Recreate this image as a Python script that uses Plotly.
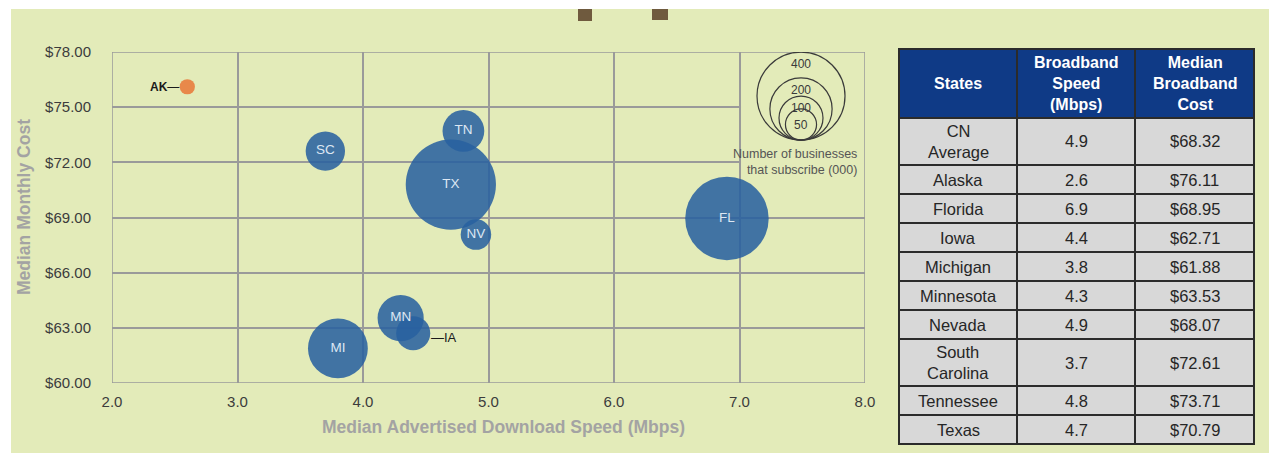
import math
import plotly.graph_objects as go

# ---------------- data ----------------
state_codes = ["AK", "FL", "IA", "MI", "MN", "NV", "SC", "TN", "TX"]
speed_mbps = [2.6, 6.9, 4.4, 3.8, 4.3, 4.9, 3.7, 4.8, 4.7]
monthly_cost = [76.11, 68.95, 62.71, 61.88, 63.53, 68.07, 72.61, 73.71, 70.79]
subscribers_k = [12, 360, 60, 185, 110, 48, 80, 90, 420]  # thousands
outside_labels = {"AK": "left", "IA": "right"}

legend_sizes = [400, 200, 100, 50]

table_states = ["CN<br>Average", "Alaska", "Florida", "Iowa", "Michigan", "Minnesota",
                "Nevada", "South<br>Carolina", "Tennessee", "Texas"]
table_speed = ["4.9", "2.6", "6.9", "4.4", "3.8", "4.3", "4.9", "3.7", "4.8", "4.7"]
table_cost = ["$68.32", "$76.11", "$68.95", "$62.71", "$61.88", "$63.53",
              "$68.07", "$72.61", "$73.71", "$70.79"]
table_headers = ["States", "Broadband<br>Speed<br>(Mbps)", "Median<br>Broadband<br>Cost"]

x_ticks = [2, 3, 4, 5, 6, 7, 8]
y_ticks = [60, 63, 66, 69, 72, 75, 78]

# ---------------- style ----------------
W, H = 1269, 453
FONT = "Liberation Sans, Arial, sans-serif"
BG = "#e3ebb9"
GRID = "#9a9a9a"
BLUE = "rgb(40,96,160)"
ORANGE = "#e8793a"
SIZEREF = 2 / 19.36  # plotly area mode: diameter = sqrt(2 * value / sizeref)

plot_l, plot_r, plot_t, plot_b = 112, 865, 52, 383

fig = go.Figure()

colors = [ORANGE if s == "AK" else BLUE for s in state_codes]
inside_text = ["" if s in outside_labels else s for s in state_codes]

fig.add_trace(go.Scatter(
    x=speed_mbps, y=monthly_cost, mode="markers+text",
    text=inside_text, textposition="middle center",
    textfont=dict(family=FONT, size=13.5, color="#dde7f3"),
    marker=dict(size=subscribers_k, sizemode="area", sizeref=SIZEREF,
                color=colors, opacity=0.87, line=dict(width=0)),
    showlegend=False, hoverinfo="skip",
))


def radius(n):
    return math.sqrt(2 * n / SIZEREF) / 2


annotations = []
for s, x, y, n in zip(state_codes, speed_mbps, monthly_cost, subscribers_k):
    if s in outside_labels:
        r = radius(n)
        if outside_labels[s] == "left":
            annotations.append(dict(x=x, y=y, xref="x", yref="y", text="<b>" + s + "</b>—",
                                    xanchor="right", yanchor="middle", xshift=-r + 1,
                                    showarrow=False, font=dict(family=FONT, size=12, color="#1a1a1a")))
        else:
            annotations.append(dict(x=x, y=y, xref="x", yref="y", text="—" + s,
                                    xanchor="left", yanchor="middle", xshift=r - 1, yshift=-4,
                                    showarrow=False, font=dict(family=FONT, size=13, color="#1a1a1a")))

shapes = [
    # page background and decorations
    dict(type="rect", xref="paper", yref="paper", x0=11 / W, x1=1.0, y0=0, y1=1 - 9 / H,
         fillcolor=BG, line=dict(width=0), layer="below"),
    dict(type="rect", xref="paper", yref="paper", x0=578 / W, x1=592 / W, y0=1 - 21 / H, y1=1 - 9 / H,
         fillcolor="#6f5a3e", line=dict(width=0), layer="below"),
    dict(type="rect", xref="paper", yref="paper", x0=652 / W, x1=668 / W, y0=1 - 20 / H, y1=1 - 9 / H,
         fillcolor="#6f5a3e", line=dict(width=0), layer="below"),
    # legend box: hides grid in the top-right cell
    dict(type="rect", xref="x", yref="y", x0=7.012, x1=8, y0=71.95, y1=78,
         fillcolor=BG, line=dict(width=0), layer="between"),
    # plot frame
    dict(type="rect", xref="x", yref="y", x0=2, x1=8, y0=60, y1=78,
         line=dict(color=GRID, width=1.5), fillcolor="rgba(0,0,0,0)", layer="above"),
]

# size legend: nested circles sharing a bottom point
leg_x, leg_y = 7.49, 73.21
for n in legend_sizes:
    r = radius(n)
    shapes.append(dict(type="circle", xref="x", yref="y", xsizemode="pixel", ysizemode="pixel",
                       xanchor=leg_x, yanchor=leg_y, x0=-r, x1=r, y0=0, y1=2 * r,
                       line=dict(color="#3a3a3a", width=1.2), layer="above"))
    off = 2 * r - 12 if n >= 100 else r
    annotations.append(dict(x=leg_x, y=leg_y, xref="x", yref="y", text=str(n),
                            yshift=off, showarrow=False, xanchor="center", yanchor="middle",
                            font=dict(family=FONT, size=12, color="#3a3a3a")))
annotations.append(dict(x=8, y=leg_y, xref="x", yref="y",
                        text="Number of businesses<br>that subscribe (000)",
                        xanchor="right", yanchor="top", xshift=-6, yshift=-5, align="right",
                        showarrow=False, font=dict(family=FONT, size=12.5, color="#555555")))

# axis titles
annotations.append(dict(x=503 / W, y=1 - 427 / H, xref="paper", yref="paper",
                        text="<b>Median Advertised Download Speed (Mbps)</b>", showarrow=False,
                        xanchor="center", yanchor="middle",
                        font=dict(family=FONT, size=17.5, color="#a3a3a3")))
annotations.append(dict(x=24 / W, y=1 - 207 / H, xref="paper", yref="paper",
                        text="<b>Median Monthly Cost</b>", showarrow=False, textangle=-90,
                        xanchor="center", yanchor="middle",
                        font=dict(family=FONT, size=17.5, color="#a3a3a3")))

# ---------------- table (cells built from the data lists) ----------------
col_edges = [899, 1017, 1135, 1254]
table_top = 49
header_h = 69
single_h, extra_line_h = 29, 18
rows = [table_headers] + [list(r) for r in zip(table_states, table_speed, table_cost)]
y_cursor = table_top
for ri, row in enumerate(rows):
    if ri == 0:
        h = header_h
    else:
        h = single_h + extra_line_h * max(v.count("<br>") for v in row)
    for ci, val in enumerate(row):
        x0, x1 = col_edges[ci], col_edges[ci + 1]
        shapes.append(dict(type="rect", xref="paper", yref="paper",
                           x0=x0 / W, x1=x1 / W, y0=1 - (y_cursor + h) / H, y1=1 - y_cursor / H,
                           fillcolor="#0f3a86" if ri == 0 else "#d8d8d8",
                           line=dict(color="#2b2b2b", width=2), layer="above"))
        annotations.append(dict(x=(x0 + x1) / 2 / W, y=1 - (y_cursor + h / 2) / H,
                                xref="paper", yref="paper",
                                text=("<b>" + val + "</b>") if ri == 0 else val,
                                showarrow=False, xanchor="center", yanchor="middle", align="center",
                                font=dict(family=FONT, size=16 if ri == 0 else 16.5,
                                          color="white" if ri == 0 else "#262626")))
    y_cursor += h

axis_common = dict(showgrid=True, gridcolor=GRID, gridwidth=1.5, showline=False,
                   zeroline=False, automargin=False,
                   ticks="outside", tickcolor="rgba(0,0,0,0)",
                   tickfont=dict(family=FONT, size=15, color="#3c3c3c"))

fig.update_layout(
    width=W, height=H,
    margin=dict(l=0, r=0, t=0, b=0),
    paper_bgcolor="white", plot_bgcolor="rgba(0,0,0,0)",
    xaxis=dict(domain=[plot_l / W, plot_r / W], range=[2, 8], tickvals=x_ticks,
               ticktext=[f"{v:.1f}" for v in x_ticks], ticklen=5, **axis_common),
    yaxis=dict(domain=[1 - plot_b / H, 1 - plot_t / H], range=[60, 78], tickvals=y_ticks,
               ticktext=[f"${v:.2f}" for v in y_ticks], ticklen=17, **axis_common),
    shapes=shapes, annotations=annotations,
    showlegend=False,
    font=dict(family=FONT),
)

fig.write_html("out.html")
